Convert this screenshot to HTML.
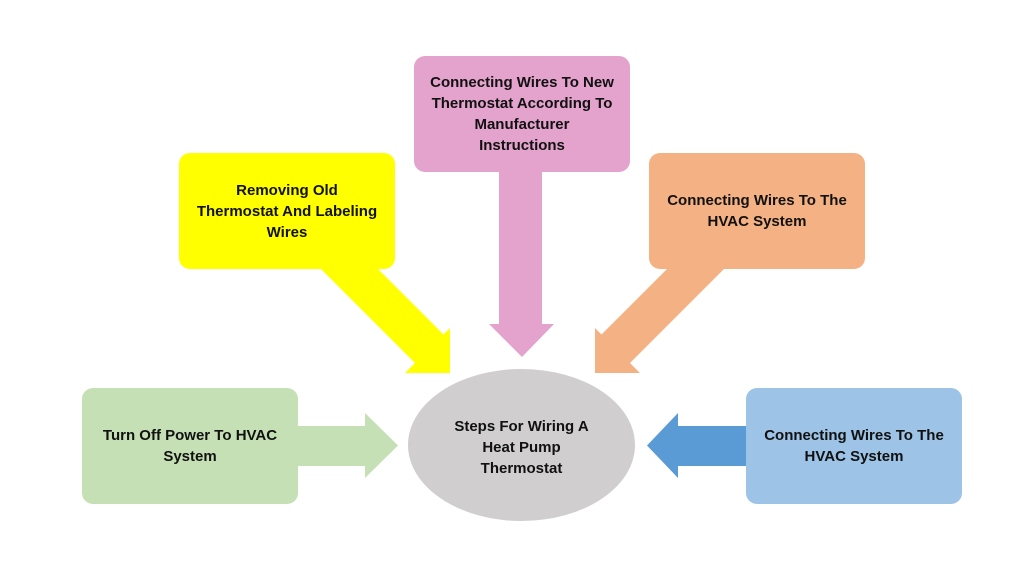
<!DOCTYPE html>
<html><head><style>
body{margin:0;width:1027px;height:561px;background:#fff;position:relative;overflow:hidden;font-family:"Liberation Sans",sans-serif;}
.b{position:absolute;width:216px;height:116px;border-radius:11px;display:flex;align-items:center;justify-content:center;text-align:center;font-weight:bold;font-size:15px;line-height:21px;color:#111;box-sizing:border-box;padding:0 2px;white-space:nowrap;}
svg{position:absolute;left:0;top:0;}
</style></head><body>
<svg width="1027" height="561">
<polygon points="297,426 365,426 365,413 398,445.5 365,478 365,466 297,466" fill="#c5e0b4"/>
<polygon points="746,426 678,426 678,413 647,445.5 678,478 678,466 746,466" fill="#5b9bd5"/>
<polygon points="499,171 542,171 542,324 554,324 522,357 489,324 499,324" fill="#e4a3cc"/>
<polygon points="320,268 377,268 443.5,334.5 450,328 450,373 405,373 415,363" fill="#ffff00"/>
<polygon points="725,268 668,268 601.5,334.5 595,328 595,373 640,373 630,363" fill="#f4b183"/>
<ellipse cx="521.5" cy="445" rx="113.5" ry="76" fill="#d0cece"/>
<text x="521.5" y="431" text-anchor="middle" font-family="Liberation Sans" font-weight="bold" font-size="15" fill="#111">Steps For Wiring A</text>
<text x="521.5" y="452" text-anchor="middle" font-family="Liberation Sans" font-weight="bold" font-size="15" fill="#111">Heat Pump</text>
<text x="521.5" y="473" text-anchor="middle" font-family="Liberation Sans" font-weight="bold" font-size="15" fill="#111">Thermostat</text>
</svg>
<div class="b" style="left:82px;top:388px;background:#c5e0b4">Turn Off Power To HVAC<br>System</div>
<div class="b" style="left:746px;top:388px;background:#9dc3e6">Connecting Wires To The<br>HVAC System</div>
<div class="b" style="left:179px;top:153px;background:#ffff00">Removing Old<br>Thermostat And Labeling<br>Wires</div>
<div class="b" style="left:414px;top:56px;background:#e4a3cc">Connecting Wires To New<br>Thermostat According To<br>Manufacturer<br>Instructions</div>
<div class="b" style="left:649px;top:153px;background:#f4b183">Connecting Wires To The<br>HVAC System</div>
</body></html>
